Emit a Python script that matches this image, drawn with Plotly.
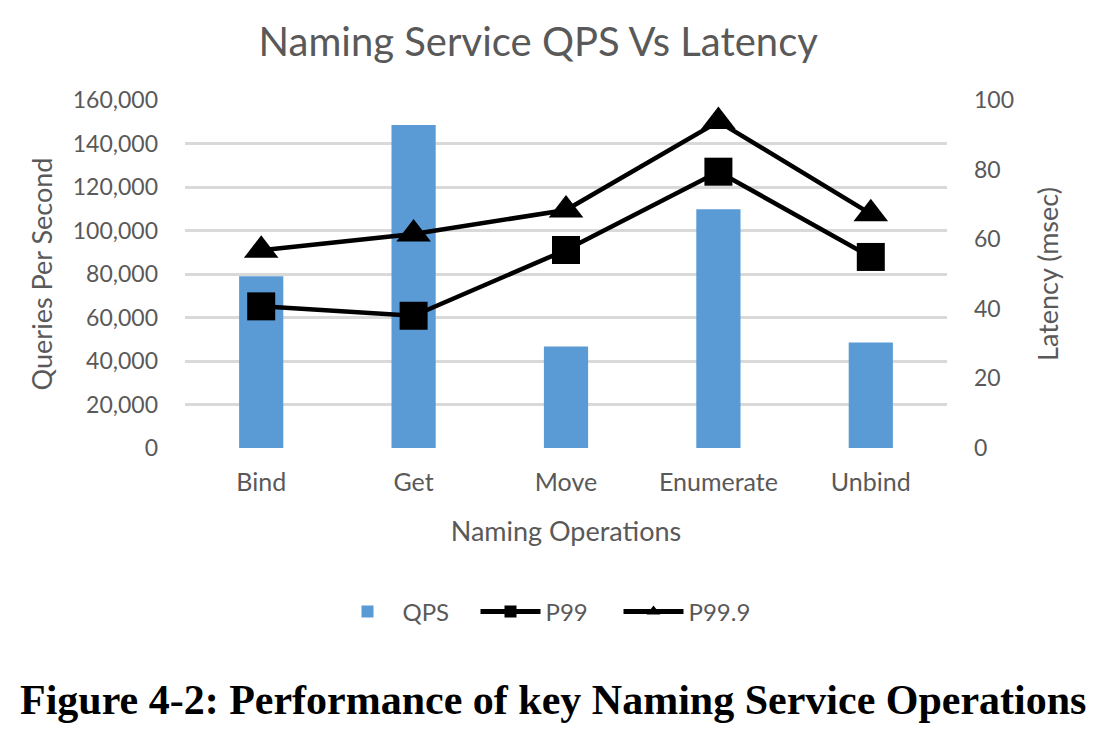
import plotly.graph_objects as go

operations = ["Bind", "Get", "Move", "Enumerate", "Unbind"]
qps = [79000, 148500, 46700, 109800, 48500]
p99 = [40.7, 38.0, 56.9, 79.4, 54.9]
p999 = [56.8, 61.5, 68.4, 93.8, 67.3]

qps_ticks = [0, 20000, 40000, 60000, 80000, 100000, 120000, 140000, 160000]
latency_ticks = [0, 20, 40, 60, 80, 100]

GRAY = "#595959"
FONT = "Lato"

fig = go.Figure()
fig.add_trace(go.Bar(
    x=operations, y=qps, name="QPS",
    marker=dict(color="#5B9BD5", line=dict(width=0)),
    yaxis="y",
))
fig.add_trace(go.Scatter(
    x=operations, y=p99, name="P99", mode="lines+markers",
    line=dict(color="black", width=4.5),
    marker=dict(symbol="square", size=28, color="black"),
    yaxis="y2",
))
fig.add_trace(go.Scatter(
    x=operations, y=p999, name="P99.9", mode="lines+markers",
    line=dict(color="black", width=4.5),
    marker=dict(symbol="triangle-up", size=30, color="black"),
    yaxis="y2",
))

fig.update_layout(
    width=1094, height=742,
    margin=dict(l=185, r=147, t=100, b=294),
    paper_bgcolor="white", plot_bgcolor="white",
    bargap=0.71,
    showlegend=True,
    title=dict(
        text="Naming Service QPS Vs Latency",
        font=dict(family=FONT, size=40, color=GRAY),
        x=0.492, xref="container", xanchor="center",
        y=1 - 42 / 742, yref="container", yanchor="middle",
    ),
    xaxis=dict(
        type="category",
        tickfont=dict(family=FONT, size=25, color=GRAY),
        showgrid=False, showline=False, ticks="",
        ticklabelstandoff=17,
        title=dict(text="Naming Operations",
                   font=dict(family=FONT, size=27, color=GRAY),
                   standoff=27),
        automargin=False,
    ),
    yaxis=dict(
        range=[0, 160000], tickvals=qps_ticks, tickformat=",",
        tickfont=dict(family=FONT, size=23, color=GRAY),
        showgrid=True, gridcolor="#D9D9D9", gridwidth=2.5,
        zeroline=False, showline=False, ticks="",
        ticklabelstandoff=26,
        title=dict(text="Queries Per Second",
                   font=dict(family=FONT, size=27, color=GRAY),
                   standoff=12),
        automargin=False,
    ),
    yaxis2=dict(
        range=[0, 100], tickvals=latency_ticks,
        overlaying="y", side="right",
        tickfont=dict(family=FONT, size=23, color=GRAY),
        showgrid=False, zeroline=False, showline=False, ticks="",
        ticklabelstandoff=26,
        title=dict(text="Latency (msec)",
                   font=dict(family=FONT, size=27, color=GRAY),
                   standoff=26),
        automargin=False,
    ),
    legend=dict(
        orientation="h",
        x=0.5, xref="container", xanchor="center",
        y=1 - 612 / 742, yref="container", yanchor="middle",
        font=dict(family=FONT, size=24, color=GRAY),
        itemsizing="constant", itemwidth=60,
        entrywidth=68, entrywidthmode="pixels",
        bgcolor="rgba(0,0,0,0)",
    ),
)

fig.add_annotation(
    text="<b>Figure 4-2: Performance of key Naming Service Operations</b>",
    xref="paper", yref="paper",
    x=(553 - 185) / (947 - 185), y=(448 - 700) / 348,
    xanchor="center", yanchor="middle", showarrow=False,
    font=dict(family="Liberation Serif", size=42, color="black"),
)

fig.write_html("out.html")
